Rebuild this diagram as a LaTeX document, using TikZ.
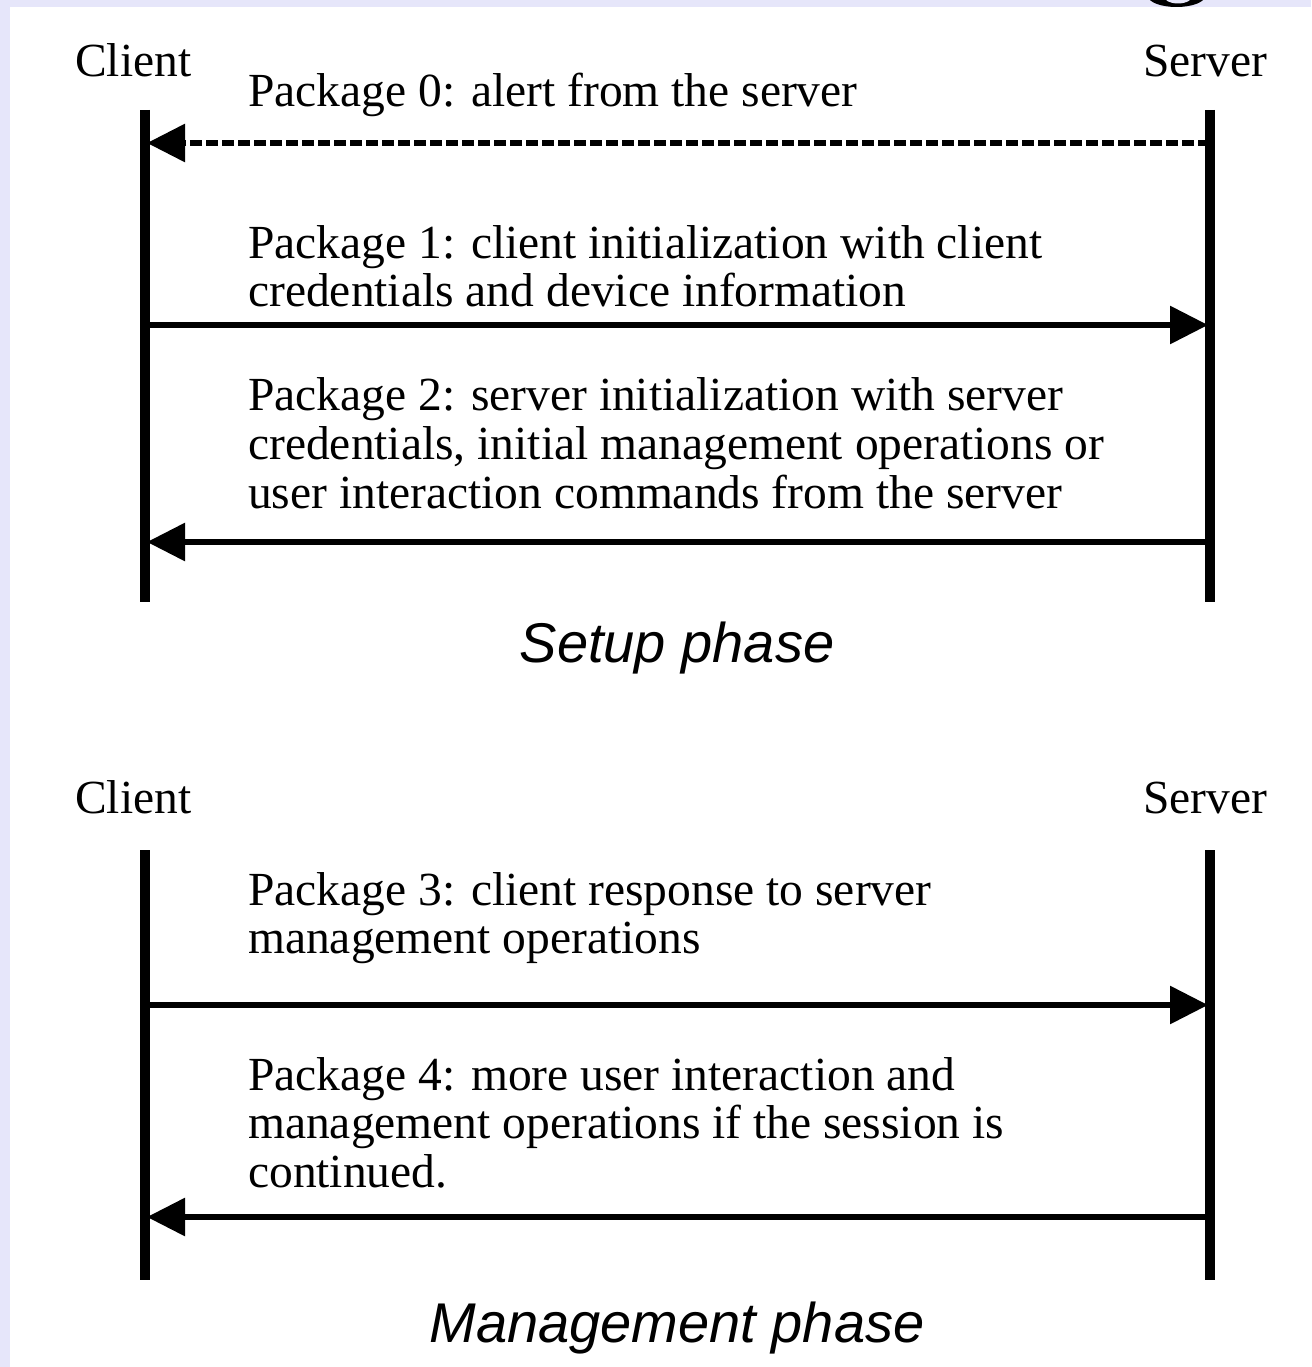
\documentclass[tikz,border=0pt]{standalone}
\usepackage{fontspec}
\setmainfont{Liberation Serif}
\setsansfont{Liberation Sans}
\usetikzlibrary{arrows.meta}
\definecolor{lav}{RGB}{230,230,250}
\begin{document}
\begin{tikzpicture}[x=1pt,y=-1pt,
  lifeline/.style={line width=10pt, line cap=butt},
  msg/.style={line width=6pt, -{Triangle[length=38pt,width=37pt]}},
  dmsg/.style={line width=6pt, dash pattern=on 12pt off 4pt, -{Triangle[length=38pt,width=37pt]}},
  lbl/.style={anchor=base west, inner sep=0pt, font=\fontsize{47.5}{50}\selectfont},
  phase/.style={anchor=base, inner sep=0pt, font=\fontsize{56}{60}\selectfont\sffamily\itshape}]
\useasboundingbox (0,0) rectangle (1311,1367);
\fill[lav] (0,0) rectangle (1311,1367);
\fill[white] (10,7) rectangle (1311,1367);
% cut-off glyph at top edge
\begin{scope}
  \clip (1140,0) rectangle (1215,7);
  \fill[black] (1176.5,-4) ellipse [x radius=28.5, y radius=11];
  \fill[lav] (1178,-5) ellipse [x radius=15, y radius=8.5];
\end{scope}

% ---------- Setup phase ----------
\node[lbl] (clientA) at (75,77) {Client};
\node[lbl] (serverA) at (1143,77) {Server};
\coordinate (cAt) at (145,110);
\coordinate (cAb) at (145,602);
\coordinate (sAt) at (1210,110);
\coordinate (sAb) at (1210,602);
\draw[lifeline] (cAt) -- (cAb);
\draw[lifeline] (sAt) -- (sAb);

\node[lbl] (p0) at (248,107) {Package 0: alert from the server};
\coordinate (m0s) at (1210,143);
\coordinate (m0c) at (147,143);
\draw[dmsg] (m0s) -- (m0c);

\node[lbl] (p1a) at (248,258) {Package 1: client initialization with client};
\node[lbl] (p1b) at (248,306) {credentials and device information};
\coordinate (m1c) at (145,325);
\coordinate (m1s) at (1208,325);
\draw[msg] (m1c) -- (m1s);

\node[lbl] (p2a) at (248,410) {Package 2: server initialization with server};
\node[lbl] (p2b) at (248,459) {credentials, initial management operations or};
\node[lbl] (p2c) at (248,508) {user interaction commands from the server};
\coordinate (m2s) at (1210,542);
\coordinate (m2c) at (147,542);
\draw[msg] (m2s) -- (m2c);

\node[phase] (setup) at (677,662) {Setup phase};

% ---------- Management phase ----------
\node[lbl] (clientB) at (75,813) {Client};
\node[lbl] (serverB) at (1143,813) {Server};
\coordinate (cBt) at (145,850);
\coordinate (cBb) at (145,1280);
\coordinate (sBt) at (1210,850);
\coordinate (sBb) at (1210,1280);
\draw[lifeline] (cBt) -- (cBb);
\draw[lifeline] (sBt) -- (sBb);

\node[lbl] (p3a) at (248,905) {Package 3: client response to server};
\node[lbl] (p3b) at (248,953) {management operations};
\coordinate (m3c) at (145,1005);
\coordinate (m3s) at (1208,1005);
\draw[msg] (m3c) -- (m3s);

\node[lbl] (p4a) at (248,1090) {Package 4: more user interaction and};
\node[lbl] (p4b) at (248,1138) {management operations if the session is};
\node[lbl] (p4c) at (248,1187) {continued.};
\coordinate (m4s) at (1210,1217);
\coordinate (m4c) at (147,1217);
\draw[msg] (m4s) -- (m4c);

\node[phase] (mgmt) at (677,1342) {Management phase};
\end{tikzpicture}
\end{document}
